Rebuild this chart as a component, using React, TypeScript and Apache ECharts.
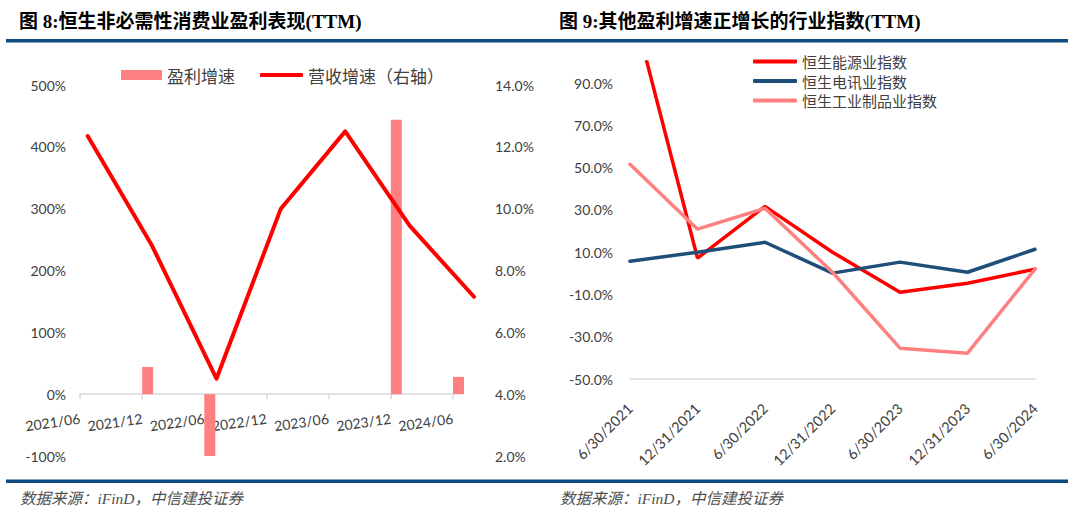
import React, { useEffect, useRef } from "react";
import * as echarts from "echarts";

// ---- Left chart (图 8) ----
const leftCategories = ["2021/06", "2021/12", "2022/06", "2022/12", "2023/06", "2023/12", "2024/06"];
const profitGrowth: (number | null)[] = [null, 44, -103, null, null, 444, 28]; // %
const revenueGrowth = [12.35, 8.8, 4.5, 10.0, 12.5, 9.45, 7.15]; // % (right axis)
const leftAxisTicks = [-100, 0, 100, 200, 300, 400, 500];
const rightAxisTicks = [2, 4, 6, 8, 10, 12, 14];

// ---- Right chart (图 9) ----
const rightCategories = ["6/30/2021", "12/31/2021", "6/30/2022", "12/31/2022", "6/30/2023", "12/31/2023", "6/30/2024"];
const energyIndex = [131, 7.2, 31.7, 10, -8.9, -4.7, 2];
const telecomIndex = [5.7, 10, 14.7, 0.1, 5.3, 0.5, 11.4];
const industrialIndex = [51.6, 20.9, 30.8, 0.5, -35.4, -37.8, 2];
const right9Ticks = [-50, -30, -10, 10, 30, 50, 70, 90];
const right9Max = 100;

const TEXT = "#404040";
const AXIS = "#d9d9d9";
const RED = "#ff0000";
const PINK = "#ff8080";
const BLUE = "#1f4e79";
const RULE = "#0f4c81";
const LABEL_FONT = "Lato, 'Noto Sans', sans-serif";
const CJK_FONT = "'Noto Sans CJK SC', sans-serif";

const LEFT_GRID_TOP = 85;
const LEFT_GRID_H = 371;

export default function App() {
  const ref = useRef<HTMLDivElement>(null);
  useEffect(() => {
    document.body.style.margin = "0";
    const chart = echarts.init(ref.current!, null, { renderer: "svg" });
    const r9Step = right9Ticks[1] - right9Ticks[0];
    const lMin = leftAxisTicks[0];
    const lMax = leftAxisTicks[leftAxisTicks.length - 1];
    // distance from grid bottom up to the 0% line (axis sits on zero)
    const zeroOffset = (LEFT_GRID_H * (0 - lMin)) / (lMax - lMin);
    const leftLegendText = { color: TEXT, fontSize: 17, fontFamily: CJK_FONT, lineHeight: 18 };
    const rightLegendText = { color: TEXT, fontSize: 15, fontFamily: CJK_FONT, lineHeight: 15 };
    const option: any = {
      animation: false,
      backgroundColor: "#ffffff",
      grid: [
        { left: 80, top: LEFT_GRID_TOP, width: 373, height: LEFT_GRID_H },
        { left: 87.7, top: LEFT_GRID_TOP, width: 386.3, height: LEFT_GRID_H },
        { left: 630, top: 62, width: 405, height: 317 },
      ],
      xAxis: [
        {
          type: "category",
          gridIndex: 0,
          data: leftCategories,
          boundaryGap: false,
          offset: -zeroOffset,
          axisLine: { onZero: false, lineStyle: { color: AXIS, width: 1.5 } },
          axisTick: { show: true, length: 5, lineStyle: { color: AXIS, width: 1.5 } },
          axisLabel: { interval: 0, rotate: 8, margin: 24, color: TEXT, fontSize: 14, fontFamily: LABEL_FONT },
          splitLine: { show: false },
        },
        {
          type: "category",
          gridIndex: 1,
          data: leftCategories,
          boundaryGap: false,
          show: false,
        },
        {
          type: "category",
          gridIndex: 2,
          data: rightCategories,
          boundaryGap: false,
          axisLine: { onZero: false, lineStyle: { color: AXIS, width: 1.5 } },
          axisTick: { show: false },
          axisLabel: { interval: 0, rotate: 45, margin: 27, color: TEXT, fontSize: 14.5, fontFamily: LABEL_FONT },
          splitLine: { show: false },
        },
      ],
      yAxis: [
        {
          type: "value",
          gridIndex: 0,
          min: lMin,
          max: lMax,
          interval: leftAxisTicks[1] - leftAxisTicks[0],
          axisLine: { show: false },
          axisTick: { show: false },
          splitLine: { show: false },
          axisLabel: { formatter: (v: number) => `${v}%`, margin: 14, color: TEXT, fontSize: 14, fontFamily: LABEL_FONT },
        },
        {
          type: "value",
          gridIndex: 1,
          position: "right",
          min: rightAxisTicks[0],
          max: rightAxisTicks[rightAxisTicks.length - 1],
          interval: rightAxisTicks[1] - rightAxisTicks[0],
          axisLine: { show: false },
          axisTick: { show: false },
          splitLine: { show: false },
          axisLabel: { formatter: (v: number) => `${v.toFixed(1)}%`, margin: 21, color: TEXT, fontSize: 14, fontFamily: LABEL_FONT },
        },
        {
          type: "value",
          gridIndex: 2,
          min: right9Ticks[0],
          max: right9Max,
          interval: r9Step / 2,
          axisLine: { show: false },
          axisTick: { show: false },
          splitLine: { show: false },
          axisLabel: {
            margin: 17,
            color: TEXT,
            fontSize: 14,
            fontFamily: LABEL_FONT,
            formatter: (v: number) => {
              const r = Math.round(v);
              return right9Ticks.indexOf(r) >= 0 ? `${r.toFixed(1)}%` : "";
            },
          },
        },
      ],
      legend: [
        {
          left: 121,
          top: 66,
          padding: 0,
          itemWidth: 41,
          itemHeight: 10,
          textStyle: leftLegendText,
          data: [{ name: "盈利增速", icon: "rect" }],
        },
        {
          left: 260,
          top: 66,
          padding: 0,
          itemWidth: 43,
          itemHeight: 4,
          textStyle: leftLegendText,
          data: [{ name: "营收增速（右轴）", icon: "roundRect" }],
        },
        {
          left: 753,
          top: 54,
          padding: 0,
          orient: "vertical",
          itemWidth: 44,
          itemHeight: 4,
          itemGap: 4.5,
          textStyle: rightLegendText,
          data: [
            { name: "恒生能源业指数", icon: "roundRect" },
            { name: "恒生电讯业指数", icon: "roundRect" },
            { name: "恒生工业制品业指数", icon: "roundRect" },
          ],
        },
      ],
      series: [
        {
          type: "bar",
          xAxisIndex: 0,
          yAxisIndex: 0,
          barWidth: 11,
          barGap: "0%",
          data: leftCategories.map(() => null),
          itemStyle: { color: "rgba(0,0,0,0)" },
        },
        {
          name: "盈利增速",
          type: "bar",
          xAxisIndex: 0,
          yAxisIndex: 0,
          barWidth: 11,
          barGap: "0%",
          data: profitGrowth,
          itemStyle: { color: PINK },
        },
        {
          name: "营收增速（右轴）",
          type: "line",
          xAxisIndex: 1,
          yAxisIndex: 1,
          symbol: "none",
          data: revenueGrowth,
          lineStyle: { color: RED, width: 4, cap: "round", join: "round" },
          itemStyle: { color: RED },
        },
        {
          name: "恒生能源业指数",
          type: "line",
          xAxisIndex: 2,
          yAxisIndex: 2,
          symbol: "none",
          data: energyIndex,
          lineStyle: { color: RED, width: 3.5, cap: "round" },
          itemStyle: { color: RED },
        },
        {
          name: "恒生电讯业指数",
          type: "line",
          xAxisIndex: 2,
          yAxisIndex: 2,
          symbol: "none",
          data: telecomIndex,
          lineStyle: { color: BLUE, width: 3.5, cap: "round" },
          itemStyle: { color: BLUE },
        },
        {
          name: "恒生工业制品业指数",
          type: "line",
          xAxisIndex: 2,
          yAxisIndex: 2,
          symbol: "none",
          data: industrialIndex,
          lineStyle: { color: PINK, width: 3.5, cap: "round" },
          itemStyle: { color: PINK },
        },
      ],
      graphic: [
        {
          type: "text",
          left: 19,
          top: 12,
          style: {
            text: "图 8:恒生非必需性消费业盈利表现(TTM)",
            font: "bold 19px 'Liberation Serif', 'Noto Sans CJK SC'",
            fill: "#000",
          },
        },
        {
          type: "text",
          left: 559,
          top: 12,
          style: {
            text: "图 9:其他盈利增速正增长的行业指数(TTM)",
            font: "bold 19px 'Liberation Serif', 'Noto Sans CJK SC'",
            fill: "#000",
          },
        },
        { type: "rect", shape: { x: 6, y: 39, width: 534, height: 3.5 }, style: { fill: RULE } },
        { type: "rect", shape: { x: 540, y: 39, width: 528, height: 3.5 }, style: { fill: RULE } },
        { type: "rect", shape: { x: 6, y: 479.5, width: 534, height: 3.5 }, style: { fill: RULE } },
        { type: "rect", shape: { x: 540, y: 479.5, width: 528, height: 3.5 }, style: { fill: RULE } },
        {
          type: "text",
          left: 20,
          top: 491,
          style: {
            text: "数据来源：iFinD，中信建投证券",
            font: "italic 15.5px 'Liberation Serif', 'Noto Sans CJK SC'",
            fill: "#505050",
          },
        },
        {
          type: "text",
          left: 560,
          top: 491,
          style: {
            text: "数据来源：iFinD，中信建投证券",
            font: "italic 15.5px 'Liberation Serif', 'Noto Sans CJK SC'",
            fill: "#505050",
          },
        },
      ],
    };
    chart.setOption(option);
    return () => chart.dispose();
  }, []);
  return <div ref={ref} style={{ width: 1080, height: 524 }} />;
}
